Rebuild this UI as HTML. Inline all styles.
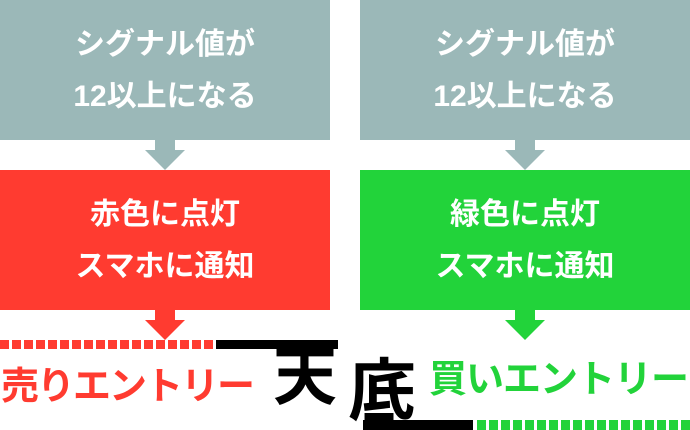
<!DOCTYPE html>
<html><head><meta charset="utf-8"><style>
body{margin:0;width:690px;height:430px;background:#fff;position:relative;overflow:hidden;font-family:"Liberation Sans","Noto Sans CJK JP",sans-serif;font-weight:bold}
.b{position:absolute;width:330px;height:140px;color:#fff;font-size:30px;text-align:center;line-height:52px;box-sizing:border-box;padding-top:19px}
.g{background:#9bb8b8}.r{background:#ff3b30}.n{background:#22d33a}
.t{position:absolute;white-space:nowrap;line-height:1}
</style></head><body>
<div class="b g" style="left:0;top:0">シグナル値が<br>12以上になる</div>
<div class="b g" style="left:360px;top:0">シグナル値が<br>12以上になる</div>
<div class="b r" style="left:0;top:170px">赤色に点灯<br>スマホに通知</div>
<div class="b n" style="left:360px;top:170px">緑色に点灯<br>スマホに通知</div>
<svg style="position:absolute;left:0;top:0" width="690" height="430">
<path d="M155 140h20v10h10l-20 20l-20-20h10z" fill="#9bb8b8"/>
<path d="M515 140h20v10h10l-20 20l-20-20h10z" fill="#9bb8b8"/>
<path d="M155 310h20v10h10l-20 20l-20-20h10z" fill="#ff3b30"/>
<path d="M515 310h20v10h10l-20 20l-20-20h10z" fill="#22d33a"/>
<line x1="0" y1="344.5" x2="213" y2="344.5" stroke="#ff3b30" stroke-width="9" stroke-dasharray="9 3"/>
<rect x="216" y="340" width="122" height="9" fill="#000"/>
<rect x="363" y="420" width="110" height="10" fill="#000"/>
<line x1="477" y1="425" x2="690" y2="425" stroke="#22d33a" stroke-width="10" stroke-dasharray="9 3"/>
</svg>
<div class="t" style="left:1px;top:368px;font-size:38px;color:#ff3b30;letter-spacing:-2px">売りエントリー</div>
<div class="t" style="left:273px;top:345px;font-size:64px;color:#000">天</div>
<div class="t" style="left:348px;top:358px;font-size:68px;color:#000">底</div>
<div class="t" style="left:429px;top:361px;font-size:38px;color:#22d33a;letter-spacing:-1px">買いエントリー</div>
</body></html>
